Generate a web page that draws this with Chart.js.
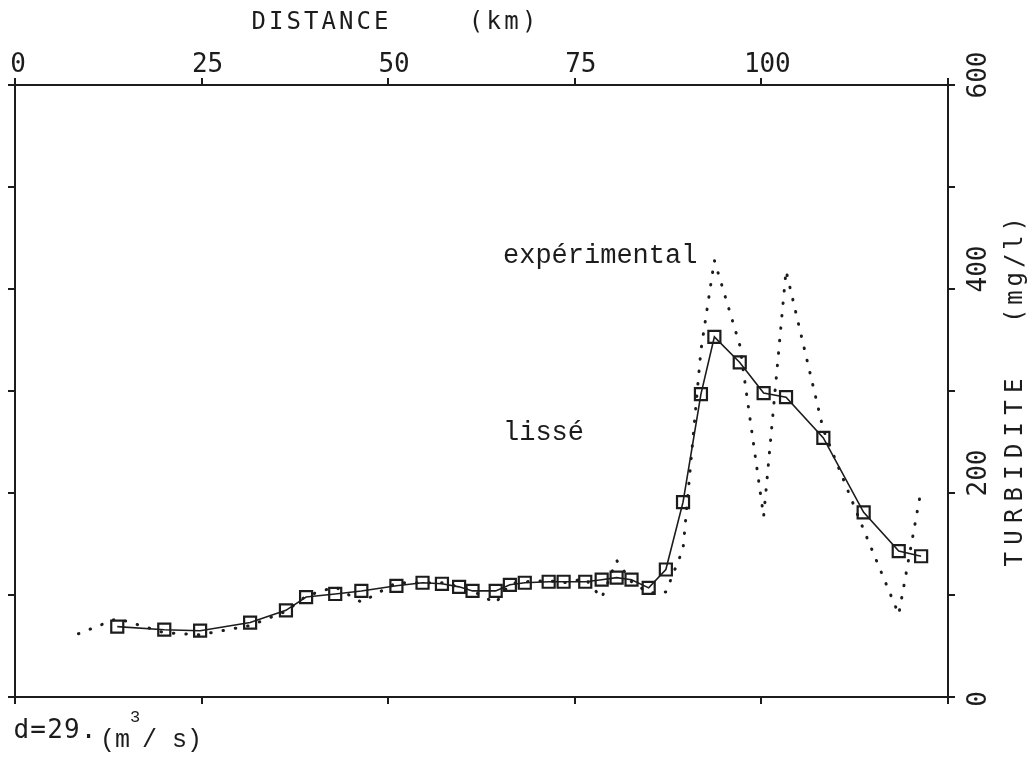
<!DOCTYPE html>
<html>
<head>
<meta charset="utf-8">
<script src="https://cdn.jsdelivr.net/npm/chart.js@4.4.1/dist/chart.umd.min.js"></script>
<style>
  html, body { margin: 0; padding: 0; background: #fff; }
  #wrap { width: 1034px; height: 765px; }
</style>
</head>
<body>
<div id="wrap"><canvas id="c" width="1034" height="765"></canvas></div>
<script>
// smoothed series (squares)
const smoothKm = [13.7, 20.0, 24.8, 31.5, 36.3, 39.0, 42.9, 46.4, 51.1, 54.6, 57.2, 59.5, 61.3, 64.4, 66.3, 68.3, 71.5, 73.5, 76.4, 78.6, 80.6, 82.6, 84.9, 87.2, 89.5, 91.9, 93.7, 97.1, 100.3, 103.3, 108.3, 113.7, 118.4, 121.4];
const smoothVal = [69, 66, 65, 73, 85, 98, 101, 104, 109, 112, 111, 108, 104, 104, 110, 112, 113, 113, 113, 115, 117, 115, 107, 125, 191, 297, 353, 328, 298, 294, 254, 181, 143, 138];

// experimental series (dotted)
const expKm = [8.5, 13.7, 20.0, 24.8, 31.5, 36.3, 39.0, 42.9, 46.4, 51.1, 54.6, 57.2, 59.5, 61.3, 64.4, 66.3, 68.3, 71.5, 73.5, 76.4, 78.6, 80.6, 82.6, 84.9, 87.2, 89.5, 91.9, 93.7, 97.1, 100.3, 103.3, 108.3, 113.7, 118.4, 121.4];
const expVal = [62, 77, 63, 61, 70, 84, 99, 108, 93, 112, 112, 112, 108, 104, 92, 111, 113, 114, 112, 116, 97, 134, 113, 102, 103, 145, 340, 428, 345, 177, 418, 262, 164, 81, 203];

const xTickLabels = [0, 25, 50, 75, 100];
const yTickLabels = [0, 200, 400, 600];

const INK = '#1c1c1c';
const PLOT_FONT = '"DejaVu Sans Mono", monospace';
const TYPE_FONT = '"Liberation Mono", "Courier New", monospace';

function toPoints(xs, ys) {
  return xs.map((x, i) => ({ x: x, y: ys[i] }));
}

// plotter style: spread characters evenly between two positions
function spread(ctx, text, from, to, y) {
  const step = (to - from) / text.length;
  for (let i = 0; i < text.length; i++) {
    ctx.fillText(text[i], from + step * (i + 0.5), y);
  }
}

const labelsPlugin = {
  id: 'plotterLabels',
  afterDraw(chart) {
    const ctx = chart.ctx;
    const x = chart.scales.x;
    const y = chart.scales.y;
    ctx.save();
    ctx.fillStyle = INK;
    ctx.textAlign = 'center';
    ctx.textBaseline = 'middle';

    // top axis title
    ctx.font = '24px ' + PLOT_FONT;
    spread(ctx, 'DISTANCE', 250, 390, 23);
    spread(ctx, '(km)', 467, 538, 23);

    // top tick labels
    ctx.font = '26px ' + PLOT_FONT;
    xTickLabels.forEach(v => {
      const s = String(v);
      const px = x.getPixelForValue(v) + (v === 0 ? 3 : 6);
      const w = s.length * 15.5;
      spread(ctx, s, px - w / 2, px + w / 2, 65);
    });

    // right tick labels, rotated
    yTickLabels.forEach(v => {
      const shift = v === 0 ? 2 : (v === 600 ? -10 : -20);
      ctx.save();
      ctx.translate(979, y.getPixelForValue(v) + shift);
      ctx.rotate(-Math.PI / 2);
      ctx.fillText(String(v), 0, 0);
      ctx.restore();
    });

    // right axis title
    ctx.save();
    ctx.translate(1016, 0);
    ctx.rotate(-Math.PI / 2);
    ctx.font = '24px ' + PLOT_FONT;
    spread(ctx, 'TURBIDITE', -570, -375, 0);
    spread(ctx, '(mg/l)', -325, -215, 0);
    ctx.restore();

    // annotations
    ctx.textAlign = 'left';
    ctx.textBaseline = 'alphabetic';
    ctx.font = '27px ' + TYPE_FONT;
    ctx.fillText('expérimental', 503, 263);
    ctx.fillText('lissé', 503, 440);

    // discharge note
    ctx.textAlign = 'center';
    ctx.font = '26px ' + PLOT_FONT;
    spread(ctx, 'd=29.', 13, 97, 738);
    ctx.textAlign = 'left';
    ctx.font = '25px ' + TYPE_FONT;
    ctx.fillText('(m', 100, 747);
    ctx.font = '17px ' + TYPE_FONT;
    ctx.fillText('3', 130, 722);
    ctx.font = '25px ' + TYPE_FONT;
    ctx.fillText('/ s)', 142, 747);
    ctx.restore();
  }
};

function axis(position, min, max, step) {
  return {
    type: 'linear',
    position: position,
    min: min,
    max: max,
    ticks: { display: false, stepSize: step },
    grid: {
      drawOnChartArea: false,
      drawTicks: true,
      tickLength: 7,
      color: INK,
      lineWidth: 2
    },
    border: { display: true, color: INK, width: 2 }
  };
}

new Chart(document.getElementById('c'), {
  type: 'scatter',
  data: {
    datasets: [
      {
        label: 'lissé',
        data: toPoints(smoothKm, smoothVal),
        xAxisID: 'x',
        yAxisID: 'y',
        showLine: true,
        borderColor: INK,
        borderWidth: 1.6,
        tension: 0,
        pointStyle: 'rect',
        pointRadius: 8.5,
        pointBorderWidth: 2.2,
        pointBorderColor: INK,
        pointBackgroundColor: 'rgba(0,0,0,0)'
      },
      {
        label: 'expérimental',
        data: toPoints(expKm, expVal),
        xAxisID: 'x',
        yAxisID: 'y',
        showLine: true,
        borderColor: INK,
        borderWidth: 3,
        borderDash: [0.5, 12],
        borderCapStyle: 'round',
        tension: 0,
        pointRadius: 0
      }
    ]
  },
  options: {
    responsive: false,
    animation: false,
    events: [],
    layout: {
      padding: { left: 8, top: 78, right: 79, bottom: 61 }
    },
    plugins: {
      legend: { display: false },
      tooltip: { enabled: false }
    },
    scales: {
      x: axis('top', 0, 125, 25),
      x2: axis('bottom', 0, 125, 25),
      y: axis('left', 0, 600, 100),
      y2: axis('right', 0, 600, 100)
    }
  },
  plugins: [labelsPlugin]
});
</script>
</body>
</html>
